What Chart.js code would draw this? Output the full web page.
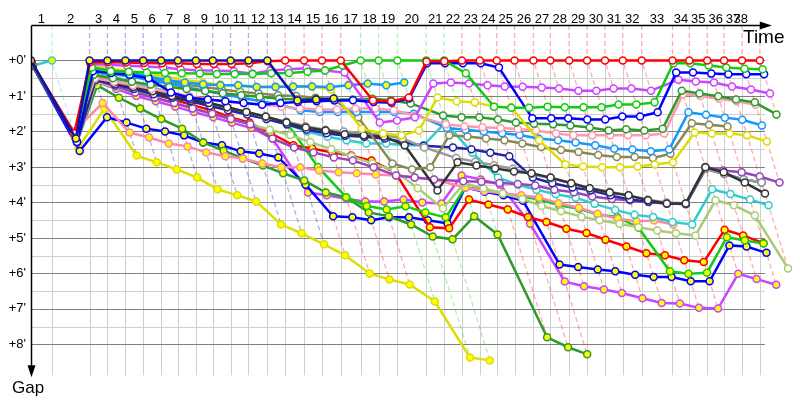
<!DOCTYPE html>
<html><head><meta charset="utf-8">
<script src="https://cdn.jsdelivr.net/npm/chart.js@4.4.0/dist/chart.umd.min.js"></script>
<style>html,body{margin:0;padding:0;background:#fff}canvas{display:block}</style>
</head><body>
<canvas id="c" width="800" height="400"></canvas>
<script>
// ---- DATA ----
const lapLabels = ['1','2','3','4','5','6','7','8','9','10','11','12','13','14','15','16','17','18','19','20','21','22','23','24','25','26','27','28','29','30','31','32','33','34','35','36','37','38'];
// leader's time (minutes) at each checkpoint 0..38
const checkpointTimes = [0, 1.91, 5.36, 7.00, 8.64, 10.27, 11.91, 13.45, 15.09, 16.64, 18.27, 19.91, 21.64, 23.27, 25.00, 26.64, 28.36, 30.18, 31.82, 33.55, 36.18, 37.82, 39.45, 41.09, 42.64, 44.27, 46.00, 47.55, 49.27, 50.91, 52.55, 54.18, 55.91, 58.73, 60.27, 61.91, 63.45, 65.09, 66.73];
const gapTickValues = [0,1,2,3,4,5,6,7,8];
const gapTickLabels = ["+0'","+1'","+2'","+3'","+4'","+5'","+6'","+7'","+8'"];

// gaps (minutes) behind the leader at each checkpoint
const navyY   = [0, 2.2, 0,0,0,0,0,0,0,0,0,0,0, 1.13, 1.1, 1.07];
const redW    = [0.05, 2.05, 0.05, 0.05, 0.06, 0.07, 0.08, 0.08, 0.1, 0.1, 0.1, 0.08, 0.02, 0, 0, 0, 0, 1.13, 1.15, 1.04, 0.03, 0.02, 0,0,0,0,0,0,0,0,0,0,0,0,0,0,0,0,0];
const greenW  = [0.1, 2.1, 0.2, 0.3, 0.32, 0.34, 0.35, 0.36, 0.37, 0.38, 0.38, 0.38, 0.36, 0.35, 0.32, 0.28, 0.14, 0, 0, 0, 0, 0, 0.36, 1.3, 1.33, 1.33, 1.30, 1.32, 1.32, 1.32, 1.24, 1.24, 1.18, 0.08, 0.08, 0.14, 0.2, 0.23, 0.25];
const blueW   = [0.1, 2.3, 0.3, 0.35, 0.4, 0.5, 0.9, 1.05, 1.1, 1.15, 1.2, 1.25, 1.2, 1.17, 1.15, 1.13, 1.12, 1.17, 1.19, 1.07, 0.08, 0.08, 0.08, 0.08, 0.2, 1.63, 1.63, 1.63, 1.66, 1.66, 1.58, 1.58, 1.46, 0.34, 0.34, 0.37, 0.39, 0.39, 0.39];
const violetW = [0.1, 2.1, 0.1, 0.12, 0.15, 0.17, 0.2, 0.25, 0.28, 0.28, 0.3, 0.37, 0.28, 0.25, 0.22, 0.28, 0.34, 1.75, 1.69, 1.6, 0.65, 0.62, 0.65, 0.7, 0.73, 0.74, 0.76, 0.79, 0.85, 0.85, 0.79, 0.79, 0.85, 0.54, 0.59, 0.62, 0.73, 0.82, 0.93];
const dkgreenW= [0.1, 2.2, 0.4, 0.5, 0.6, 0.68, 0.75, 0.8, 0.86, 0.92, 0.98, 1.02, 1.08, 1.1, 1.08, 1.1, 1.1, 1.08, 1.12, 1.21, 1.55, 1.6, 1.6, 1.66, 1.75, 1.78, 1.8, 1.83, 1.89, 1.97, 1.94, 1.97, 1.92, 0.85, 0.93, 1.01, 1.1, 1.18, 1.52];
const pinkW   = [0.1, 2.1, 0.5, 0.6, 0.7, 0.8, 0.9, 1.0, 1.1, 1.15, 1.2, 1.25, 1.3, 1.35, 1.38, 1.38, 1.35, 1.35, 1.4, 1.55, 1.8, 1.85, 1.88, 1.9, 1.93, 1.97, 2.06, 2.11, 2.11, 2.11, 2.11, 2.11, 2.06, 0.95, 1.0, 1.08, 1.15, 1.25];
const ltblueW = [0.1, 2.1, 0.25, 0.35, 0.45, 0.55, 0.65, 0.75, 0.85, 0.95, 1.05, 1.15, 1.25, 1.4, 1.45, 1.45, 1.45, 1.45, 1.45, 1.5, 1.9, 1.95, 2.0, 2.05, 2.1, 2.2, 2.25, 2.31, 2.39, 2.49, 2.51, 2.56, 2.51, 1.46, 1.53, 1.61, 1.67, 1.83];
const ltblueY = [0.1, 2.1, 0.2, 0.28, 0.33, 0.45, 0.55, 0.62, 0.67, 0.7, 0.7, 0.75, 0.75, 0.73, 0.73, 0.75, 0.7, 0.65, 0.7, 0.62];
const yellowW = [0.1, 2.15, 0.15, 0.22, 0.3, 0.38, 0.45, 0.55, 0.62, 0.68, 0.72, 0.75, 0.73, 0.73, 0.73, 0.82, 1.92, 2.06, 2.11, 1.97, 1.04, 1.15, 1.18, 1.3, 1.32, 2.25, 2.93, 2.99, 3.01, 3.01, 2.99, 2.93, 2.87, 2.03, 2.06, 2.06, 2.11, 2.28];
const oliveW  = [0.1, 2.15, 0.3, 0.38, 0.45, 0.52, 0.6, 0.68, 0.75, 0.82, 0.88, 0.93, 0.98, 1.0, 1.05, 1.1, 1.6, 2.9, 3.07, 3.01, 2.11, 2.14, 2.2, 2.25, 2.34, 2.44, 2.52, 2.58, 2.66, 2.72, 2.72, 2.75, 2.63, 1.77, 1.81, 1.86];
const dkgreyW = [0.15, 2.2, 0.5, 0.62, 0.75, 0.87, 1.0, 1.1, 1.2, 1.32, 1.45, 1.58, 1.75, 1.89, 1.97, 2.08, 2.11, 2.14, 2.39, 3.66, 2.87, 2.96, 3.04, 3.13, 3.18, 3.3, 3.46, 3.6, 3.72, 3.8, 3.94, 4.03, 4.03, 3.01, 3.15, 3.44, 3.75];
const greyW   = [0.15, 2.2, 0.45, 0.58, 0.7, 0.82, 0.95, 1.08, 1.2, 1.32, 1.45, 1.6, 1.72, 1.85, 1.95, 2.0, 2.05, 2.1, 2.2, 2.45, 2.75, 2.85, 2.95, 3.05, 3.2, 3.32, 3.45, 3.6, 3.7, 3.8, 3.92, 4.0, 4.02, 3.05, 3.2, 3.35, 3.44];
const navyW   = [0.15, 2.3, 0.55, 0.68, 0.8, 0.95, 1.05, 1.15, 1.28, 1.4, 1.52, 1.65, 1.8, 1.95, 2.05, 2.12, 2.15, 2.2, 2.3, 2.4, 2.45, 2.5, 2.6, 2.7, 3.3, 3.46, 3.58, 3.66, 3.8, 3.92, 3.98, 4.02, 4.05, 3.05, 3.2, 3.35, 3.44];
const cyanW   = [0.1, 2.2, 0.3, 0.45, 0.6, 0.75, 0.9, 1.05, 1.2, 1.35, 1.5, 1.65, 1.8, 2.0, 2.15, 2.25, 2.34, 2.34, 2.39, 2.39, 1.75, 2.6, 3.3, 3.5, 3.64, 3.77, 3.87, 4.04, 4.21, 4.35, 4.41, 4.55, 4.62, 3.63, 3.76, 3.92, 4.08];
const ltoliveW= [0.15, 2.3, 0.6, 0.75, 0.9, 1.05, 1.2, 1.35, 1.5, 1.65, 1.8, 1.95, 2.1, 2.3, 2.5, 2.7, 2.9, 3.1, 3.6, 4.17, 3.46, 3.6, 3.75, 3.9, 4.1, 4.25, 4.4, 4.5, 4.6, 4.7, 4.79, 4.87, 4.93, 3.94, 4.08, 4.37, 5.86];
const purpleW = [0.15, 2.3, 0.55, 0.72, 0.9, 1.05, 1.2, 1.35, 1.5, 1.65, 1.8, 2.2, 2.45, 2.59, 2.73, 2.82, 3.01, 3.24, 3.3, 3.35, 3.4, 3.42, 3.45, 3.48, 3.52, 3.64, 3.71, 3.83, 3.9, 3.94, 3.99, 4.04, 4.04, 3.0, 3.1, 3.15, 3.27, 3.44];
const pinkY   = [0.1, 2.0, 1.2, 2.03, 2.17, 2.34, 2.42, 2.59, 2.7, 2.76, 2.9, 3.01, 3.01, 3.1, 3.15, 3.18, 3.21, 3.24, 3.3, 3.35, 3.58, 3.68, 3.75, 3.8, 3.86, 4.02, 4.15, 4.32, 4.46, 4.53, 4.51, 4.62];
const greenY  = [0.15, 2.3, 0.55, 0.7, 0.85, 0.95, 1.05, 1.15, 1.25, 1.35, 1.45, 1.6, 1.75, 3.0, 3.85, 4.1, 4.2, 4.11, 4.28, 4.42, 3.58, 3.63, 3.75, 3.83, 3.92, 4.08, 4.18, 4.34, 4.41, 4.71, 5.94, 6.01, 5.98, 4.98, 5.07, 5.16];
const dkgreenY= [0.15, 2.3, 0.7, 1.05, 1.35, 1.65, 1.92, 2.31, 2.54, 2.76, 2.96, 3.18, 3.38, 3.72, 3.86, 4.28, 4.39, 4.62, 4.96, 5.04, 4.39, 4.9, 7.8, 8.08, 8.28];
const redY    = [0.15, 2.3, 0.5, 0.65, 0.8, 0.95, 1.1, 1.25, 1.4, 1.6, 1.75, 2.05, 2.39, 2.48, 2.59, 2.68, 2.82, 3.15, 4.7, 4.73, 3.92, 4.06, 4.2, 4.41, 4.55, 4.74, 4.86, 5.05, 5.24, 5.43, 5.49, 5.63, 5.68, 4.77, 4.93, 5.15];
const blueY   = [0.15, 2.55, 1.6, 1.75, 1.92, 2.0, 2.11, 2.31, 2.39, 2.56, 2.62, 2.73, 3.5, 4.39, 4.42, 4.5, 4.42, 4.42, 4.5, 4.59, 3.58, 3.7, 3.8, 3.95, 5.75, 5.82, 5.89, 5.94, 6.04, 6.1, 6.1, 6.22, 6.22, 5.21, 5.24, 5.42];
const violetY = [0.15, 2.3, 0.6, 0.8, 1.0, 1.15, 1.3, 1.45, 1.6, 1.75, 1.9, 2.2, 3.72, 3.8, 3.9, 3.97, 3.97, 3.92, 4.0, 4.03, 3.24, 3.35, 3.5, 4.6, 6.23, 6.36, 6.45, 6.55, 6.7, 6.83, 6.85, 6.97, 6.99, 6.01, 6.16, 6.32];
const yellowY = [0.15, 2.45, 1.36, 2.68, 2.87, 3.07, 3.3, 3.63, 3.8, 3.97, 4.62, 4.87, 5.18, 5.49, 6.0, 6.17, 6.31, 6.79, 8.37, 8.45];
const cyanLead= [0.15, 0];

// ---- STYLES ----
const YEL = '#ffff00', WHT = '#ffffff';
const seriesList = [
  {gaps: navyY,   color:'#1212a6', fill:YEL},
  {gaps: redW,    color:'#ff0000', fill:WHT},
  {gaps: greenW,  color:'#11cc11', fill:WHT},
  {gaps: blueW,   color:'#0000ff', fill:WHT},
  {gaps: violetW, color:'#cc44ff', fill:WHT},
  {gaps: ltblueY, color:'#1199ff', fill:YEL},
  {gaps: yellowW, color:'#dddd00', fill:WHT},
  {gaps: dkgreenW,color:'#2e9a2e', fill:WHT},
  {gaps: pinkW,   color:'#ff99aa', fill:WHT},
  {gaps: ltblueW, color:'#1199ff', fill:WHT},
  {gaps: oliveW,  color:'#888855', fill:WHT},
  {gaps: dkgreyW, color:'#333333', fill:WHT},
  {gaps: greyW,   color:'#9a9a9a', fill:WHT},
  {gaps: navyW,   color:'#2222aa', fill:WHT},
  {gaps: purpleW, color:'#9944bb', fill:WHT},
  {gaps: cyanW,   color:'#33cccc', fill:WHT},
  {gaps: ltoliveW,color:'#aacc77', fill:WHT},
  {gaps: pinkY,   color:'#ff88aa', fill:YEL},
  {gaps: greenY,  color:'#11cc11', fill:YEL},
  {gaps: redY,    color:'#ff0000', fill:YEL},
  {gaps: dkgreenY,color:'#2e9a2e', fill:YEL},
  {gaps: blueY,   color:'#0000ff', fill:YEL},
  {gaps: violetY, color:'#cc44ff', fill:YEL},
  {gaps: yellowY, color:'#dddd00', fill:YEL},
  {gaps: cyanLead,color:'#33cccc', fill:YEL}
];

const GRID_END = 67.18;   // time where the grid stops
const GRID_BOTTOM = 8.87; // gap where vertical grid stops

function hexA(hex, a){
  const n = parseInt(hex.slice(1),16);
  return `rgba(${(n>>16)&255},${(n>>8)&255},${n&255},${a})`;
}

const raceBackdrop = {
  id: 'raceBackdrop',
  beforeDatasetsDraw(chart){
    const {ctx} = chart; const x = chart.scales.x, y = chart.scales.y;
    ctx.save();
    const xl = Math.round(x.getPixelForValue(0)), xr = Math.round(x.getPixelForValue(GRID_END));
    ctx.lineWidth = 1;
    ctx.strokeStyle = '#cfcfcf';
    for (let g = 0.5; g < 8; g += 1){
      const py = Math.round(y.getPixelForValue(g)) + 0.5;
      ctx.beginPath(); ctx.moveTo(xl, py); ctx.lineTo(xr, py); ctx.stroke();
    }
    const y0 = y.getPixelForValue(0), yb = y.getPixelForValue(GRID_BOTTOM);
    for (let k = 1; k < checkpointTimes.length; k++){
      const px = Math.round(x.getPixelForValue(checkpointTimes[k])) + 0.5;
      ctx.beginPath(); ctx.moveTo(px, y0); ctx.lineTo(px, yb); ctx.stroke();
    }
    ctx.strokeStyle = '#808080';
    gapTickValues.forEach(g => {
      const py = Math.round(y.getPixelForValue(g)) + 0.5;
      ctx.beginPath(); ctx.moveTo(xl, py); ctx.lineTo(xr, py); ctx.stroke();
    });
    ctx.setLineDash([5,3]); ctx.lineWidth = 1.3;
    const yTop = y.getPixelForValue(-1);
    for (let k = 1; k < checkpointTimes.length; k++){
      let lead = null, leadGap = Infinity, maxGap = 0;
      seriesList.forEach(s => {
        const g = s.gaps[k];
        if (g == null) return;
        if (g < leadGap){ leadGap = g; lead = s; }
        if (g > maxGap) maxGap = g;
      });
      if (!lead) continue;
      ctx.strokeStyle = hexA(lead.color, 0.33);
      const t = checkpointTimes[k];
      ctx.beginPath();
      ctx.moveTo(x.getPixelForValue(t), yTop);
      ctx.lineTo(x.getPixelForValue(t), y0);
      ctx.lineTo(x.getPixelForValue(t + maxGap), y.getPixelForValue(maxGap));
      ctx.stroke();
    }
    ctx.restore();
  },
  afterDraw(chart){
    const {ctx} = chart; const x = chart.scales.x, y = chart.scales.y;
    ctx.save();
    const ax = Math.round(x.getPixelForValue(0)) + 0.5, ay = Math.round(y.getPixelForValue(-1)) + 0.5;
    ctx.strokeStyle = '#000'; ctx.fillStyle = '#000'; ctx.lineWidth = 1.5;
    const arrowX = x.getPixelForValue(GRID_END) + 7;
    ctx.beginPath(); ctx.moveTo(ax, ay); ctx.lineTo(arrowX - 8, ay); ctx.stroke();
    ctx.beginPath(); ctx.moveTo(arrowX, ay); ctx.lineTo(arrowX - 12, ay - 4); ctx.lineTo(arrowX - 12, ay + 4); ctx.closePath(); ctx.fill();
    const arrowY = y.getPixelForValue(GRID_BOTTOM) + 2;
    ctx.beginPath(); ctx.moveTo(ax, ay); ctx.lineTo(ax, arrowY - 8); ctx.stroke();
    ctx.beginPath(); ctx.moveTo(ax, arrowY); ctx.lineTo(ax - 4, arrowY - 12); ctx.lineTo(ax + 4, arrowY - 12); ctx.closePath(); ctx.fill();
    ctx.font = '13px "Liberation Sans", Arial, sans-serif';
    ctx.textAlign = 'center'; ctx.textBaseline = 'alphabetic';
    const maxLabelX = x.getPixelForValue(GRID_END) - 24;
    lapLabels.forEach((lab, i) => {
      const mid = (checkpointTimes[i] + checkpointTimes[i+1]) / 2;
      const px = Math.min(x.getPixelForValue(mid), maxLabelX);
      ctx.fillText(lab, px, 23);
    });
    ctx.textAlign = 'right'; ctx.textBaseline = 'middle';
    gapTickValues.forEach((g, i) => ctx.fillText(gapTickLabels[i], 26, y.getPixelForValue(g)));
    ctx.textAlign = 'left'; ctx.textBaseline = 'alphabetic';
    ctx.font = '19px "Liberation Sans", Arial, sans-serif';
    ctx.fillText('Time', 743, 43);
    ctx.font = '17px "Liberation Sans", Arial, sans-serif';
    ctx.fillText('Gap', 12, 393);
    ctx.restore();
  }
};

const datasets = seriesList.map(s => ({
  data: s.gaps.map((g, k) => g == null ? null : {x: checkpointTimes[k] + g, y: g}).filter(p => p),
  borderColor: s.color,
  backgroundColor: s.color,
  pointBackgroundColor: s.fill,
  pointBorderColor: s.color,
  borderWidth: 2.5,
  pointRadius: 3.5,
  pointBorderWidth: 1.5,
  tension: 0,
  fill: false
}));

new Chart(document.getElementById('c'), {
  type: 'line',
  data: {datasets},
  options: {
    responsive: false, animation: false, devicePixelRatio: 1,
    layout: {padding: {left: 31, right: 0, top: 25, bottom: 13}},
    scales: {
      x: {type: 'linear', min: 0, max: 69.9, display: false},
      y: {type: 'linear', reverse: true, min: -1, max: 9.2, display: false}
    },
    plugins: {legend: {display: false}, tooltip: {enabled: false}}
  },
  plugins: [raceBackdrop]
});
</script>
</body></html>
